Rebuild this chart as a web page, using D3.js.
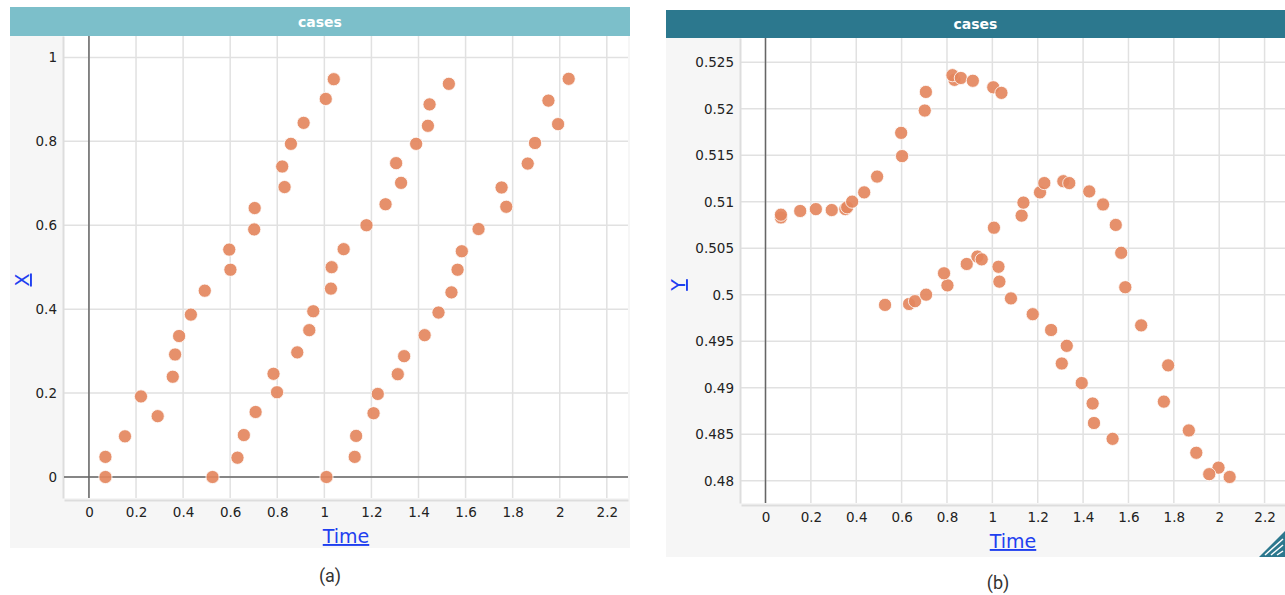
<!DOCTYPE html>
<html>
<head>
<meta charset="utf-8">
<script src="https://cdn.jsdelivr.net/npm/d3@7"></script>
<style>
  body { margin: 0; background: #fff; }
  svg { display: block; font-family: "DejaVu Sans", sans-serif; }
</style>
</head>
<body>
<svg width="1285" height="595"></svg>
<script>
// Panel (a): Time vs X, three runs of 20 cases each
var timeA = [0.07, 0.07, 0.153, 0.221, 0.292, 0.356, 0.366, 0.383, 0.433, 0.492, 0.601, 0.596, 0.702, 0.704, 0.831, 0.821, 0.858, 0.912, 1.006, 1.040,
             0.525, 0.631, 0.658, 0.708, 0.799, 0.784, 0.885, 0.936, 0.953, 1.028, 1.031, 1.082, 1.179, 1.260, 1.326, 1.305, 1.390, 1.440, 1.447, 1.529,
             1.009, 1.129, 1.135, 1.209, 1.227, 1.312, 1.339, 1.426, 1.485, 1.540, 1.566, 1.584, 1.655, 1.773, 1.753, 1.864, 1.895, 1.993, 1.952, 2.038];
var xVals = [0, 0.048, 0.097, 0.192, 0.145, 0.239, 0.292, 0.336, 0.387, 0.444, 0.494, 0.542, 0.590, 0.641, 0.691, 0.740, 0.794, 0.844, 0.901, 0.948,
             0, 0.046, 0.100, 0.155, 0.202, 0.246, 0.297, 0.350, 0.395, 0.449, 0.500, 0.543, 0.600, 0.650, 0.701, 0.748, 0.794, 0.837, 0.888, 0.937,
             0, 0.048, 0.098, 0.152, 0.198, 0.245, 0.288, 0.338, 0.392, 0.440, 0.494, 0.538, 0.591, 0.644, 0.690, 0.747, 0.796, 0.841, 0.897, 0.949];

// Panel (b): Time vs Y
var timeB = [0.068, 0.068, 0.153, 0.222, 0.292, 0.352, 0.360, 0.382, 0.435, 0.492, 0.602, 0.598, 0.702, 0.707, 0.833, 0.824, 0.861, 0.914, 1.004, 1.040,
             0.527, 0.633, 0.659, 0.708, 0.802, 0.787, 0.887, 0.934, 0.953, 1.027, 1.031, 1.082, 1.178, 1.259, 1.328, 1.306, 1.394, 1.442, 1.448, 1.530,
             1.007, 1.129, 1.137, 1.210, 1.229, 1.313, 1.339, 1.427, 1.488, 1.544, 1.568, 1.586, 1.656, 1.775, 1.756, 1.866, 1.899, 1.997, 1.956, 2.046];
var yVals = [0.5083, 0.5086, 0.5090, 0.5092, 0.5091, 0.5092, 0.5094, 0.5100, 0.5110, 0.5127, 0.5149, 0.5174, 0.5198, 0.5218, 0.5231, 0.5236, 0.5233, 0.5230, 0.5223, 0.5217,
             0.4989, 0.4990, 0.4993, 0.5000, 0.5010, 0.5023, 0.5033, 0.5041, 0.5038, 0.5030, 0.5014, 0.4996, 0.4979, 0.4962, 0.4945, 0.4926, 0.4905, 0.4883, 0.4862, 0.4845,
             0.5072, 0.5085, 0.5099, 0.5110, 0.5120, 0.5122, 0.5120, 0.5111, 0.5097, 0.5075, 0.5045, 0.5008, 0.4967, 0.4924, 0.4885, 0.4854, 0.4830, 0.4814, 0.4807, 0.4804];

var timeTicks = [0, 0.2, 0.4, 0.6, 0.8, 1, 1.2, 1.4, 1.6, 1.8, 2, 2.2];
var xTicks = [0, 0.2, 0.4, 0.6, 0.8, 1];
var yTicks = [0.48, 0.485, 0.49, 0.495, 0.5, 0.505, 0.51, 0.515, 0.52, 0.525];

var svg = d3.select("svg");
var fmt = function(d) { return String(+d.toFixed(3)); };

function drawPanel(o) {
  var g = svg.append("g");

  // panel background + header
  g.append("rect").attr("x", o.px).attr("y", o.py).attr("width", o.pw).attr("height", o.ph).attr("fill", "#f6f6f6");
  g.append("rect").attr("x", o.left).attr("y", o.top).attr("width", o.right - o.left).attr("height", o.bottom - o.top).attr("fill", "#fff");
  g.append("rect").attr("x", o.px).attr("y", o.py).attr("width", o.pw).attr("height", o.top - o.py).attr("fill", o.headColor);
  g.append("text").attr("x", (o.px + o.px + o.pw) / 2).attr("y", (o.py + o.top) / 2 + 5)
    .attr("text-anchor", "middle").attr("fill", "#fff").attr("font-size", 14).attr("font-weight", 600).text("cases");

  var x = d3.scaleLinear().domain(o.xDomain).range([o.left, o.right]);
  var y = d3.scaleLinear().domain(o.yDomain).range([o.bottom, o.top]);

  // grid
  g.append("g").selectAll("line").data(timeTicks).enter().append("line")
    .attr("x1", x).attr("x2", x).attr("y1", o.top).attr("y2", o.bottom)
    .attr("stroke", "#e1e1e1").attr("stroke-width", 1.5);
  g.append("g").selectAll("line").data(o.yTicks).enter().append("line")
    .attr("x1", o.left).attr("x2", o.right).attr("y1", y).attr("y2", y)
    .attr("stroke", "#e1e1e1").attr("stroke-width", 1.5);

  // axes
  var ya = g.append("g").attr("transform", "translate(" + (o.left - 1) + ",0)")
    .call(d3.axisLeft(y).tickValues(o.yTicks).tickSize(0).tickPadding(6).tickFormat(fmt));
  ya.select(".domain").attr("stroke", "#ddd").attr("stroke-width", 2);
  ya.selectAll("text").attr("font-size", 13.5).attr("fill", "#222").attr("font-family", "DejaVu Sans");

  var xa = g.append("g").attr("transform", "translate(0," + (o.bottom + 2) + ")")
    .call(d3.axisBottom(x).tickValues(timeTicks).tickSize(0).tickPadding(7).tickFormat(fmt));
  xa.select(".domain").attr("stroke", "#ddd").attr("stroke-width", 2);
  xa.selectAll("text").attr("font-size", 13.5).attr("fill", "#222").attr("font-family", "DejaVu Sans");

  // zero lines
  g.append("line").attr("x1", x(0)).attr("x2", x(0)).attr("y1", o.top).attr("y2", o.bottom)
    .attr("stroke", "#666").attr("stroke-width", 1.5);
  if (o.yDomain[0] < 0) {
    g.append("line").attr("x1", o.left).attr("x2", o.right).attr("y1", y(0)).attr("y2", y(0))
      .attr("stroke", "#666").attr("stroke-width", 1.5);
  }

  // axis titles
  g.append("text").attr("x", (o.left + o.right) / 2).attr("y", o.bottom + 45)
    .attr("text-anchor", "middle").attr("font-size", 19).attr("fill", "#1f3ff0")
    .attr("text-decoration", "underline").text("Time");
  g.append("text").attr("transform", "translate(" + o.ylabX + "," + o.ylabY + ") rotate(-90)")
    .attr("text-anchor", "middle").attr("font-size", 19).attr("fill", "#1f3ff0")
    .attr("text-decoration", "underline").text(o.yName);

  // points
  g.append("g").selectAll("circle").data(o.t).enter().append("circle")
    .attr("cx", function(d) { return x(d); })
    .attr("cy", function(d, i) { return y(o.v[i]); })
    .attr("r", 6.6)
    .attr("fill", "#e4875e").attr("fill-opacity", 0.92)
    .attr("stroke", "#fff").attr("stroke-width", 1).attr("stroke-opacity", 0.8);

  // caption
  svg.append("text").attr("x", o.capX).attr("y", o.capY).attr("text-anchor", "middle")
    .attr("font-family", "Roboto").attr("font-size", 18).attr("fill", "#333").text(o.caption);

  return g;
}

drawPanel({
  px: 10, py: 7, pw: 620, ph: 541, headColor: "#7cbfca",
  left: 64, top: 36, right: 628, bottom: 498,
  xDomain: [-0.106, 2.29], yDomain: [-0.05, 1.051], yTicks: xTicks,
  t: timeA, v: xVals, yName: "X", ylabX: 29, ylabY: 280,
  caption: "(a)", capX: 330, capY: 582
});

var gb = drawPanel({
  px: 666, py: 10, pw: 619, ph: 547, headColor: "#2c788e",
  left: 741, top: 38, right: 1285, bottom: 503,
  xDomain: [-0.108, 2.29], yDomain: [0.4776, 0.5276], yTicks: yTicks,
  t: timeB, v: yVals, yName: "Y", ylabX: 685, ylabY: 285,
  caption: "(b)", capX: 998, capY: 589
});

// resize grip in bottom-right corner of (b)
gb.append("path").attr("d", "M1285,531 L1285,557 L1259,557 Z").attr("fill", "#2c788e");
[8, 14, 20].forEach(function(k) {
  gb.append("line").attr("x1", 1285 - k).attr("y1", 555).attr("x2", 1283).attr("y2", 557 - k + 2)
    .attr("stroke", "#fff").attr("stroke-width", 1.5);
});
</script>
</body>
</html>
